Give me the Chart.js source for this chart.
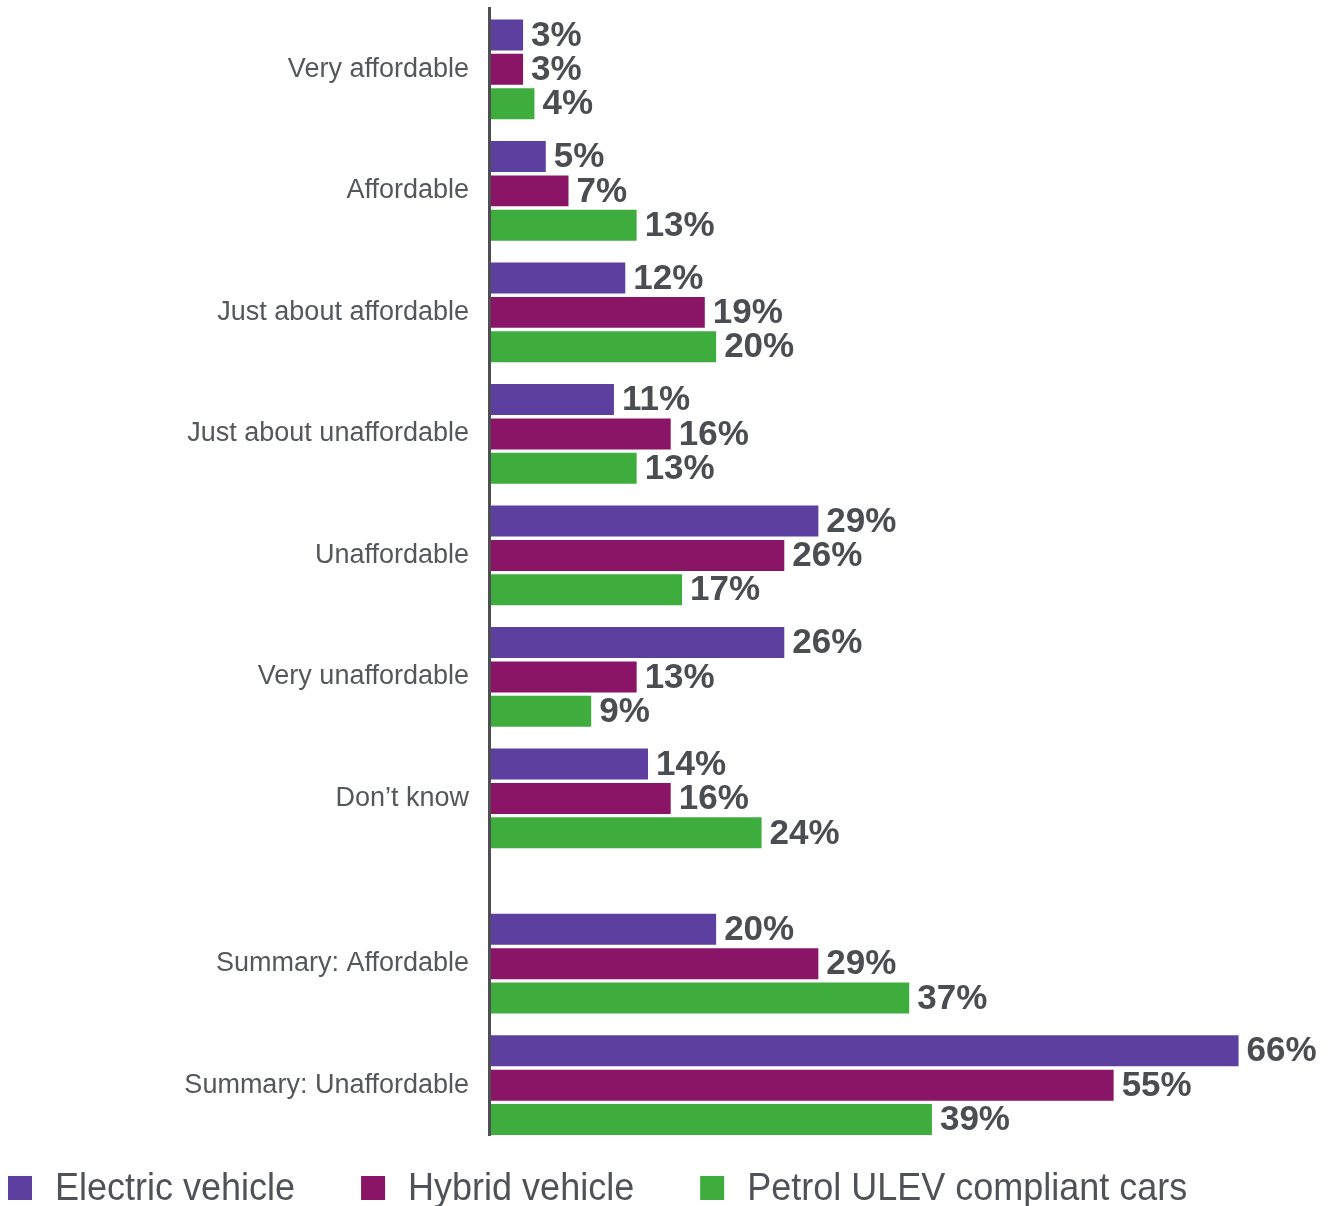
<!DOCTYPE html>
<html>
<head>
<meta charset="utf-8">
<script src="https://cdn.jsdelivr.net/npm/chart.js@4/dist/chart.umd.min.js"></script>
<style>
  html, body { margin: 0; padding: 0; background: #ffffff; }
  #wrap { width: 1335px; height: 1206px; }
</style>
</head>
<body>
<div id="wrap"><canvas id="chart" width="1335" height="1206"></canvas></div>
<script>
// Survey answers: how affordable each type of car is perceived to be
const CATEGORIES = [
  'Very affordable',
  'Affordable',
  'Just about affordable',
  'Just about unaffordable',
  'Unaffordable',
  'Very unaffordable',
  'Don\u2019t know',
  'Summary: Affordable',
  'Summary: Unaffordable'
];
const SERIES_NAMES = ['Electric vehicle', 'Hybrid vehicle', 'Petrol ULEV compliant cars'];
const ELECTRIC = [3, 5, 12, 11, 29, 26, 14, 20, 66];
const HYBRID   = [3, 7, 19, 16, 26, 13, 16, 29, 55];
const PETROL   = [4, 13, 20, 13, 17, 9, 24, 37, 39];
const COLORS = ['#5C3F9F', '#8A1465', '#3EAD3E'];

// The two summary rows sit a little apart from the detailed answers
const SUMMARY_START = 7;
const SUMMARY_GAP = 0.36;
const ROW_POS = CATEGORIES.map((c, i) => i + (i >= SUMMARY_START ? SUMMARY_GAP : 0));

const SERIES = [ELECTRIC, HYBRID, PETROL];

const datasets = SERIES.map((values, s) => ({
  label: SERIES_NAMES[s],
  data: values.map((v, i) => ({ x: v, y: ROW_POS[i] })),
  backgroundColor: COLORS[s],
  borderWidth: 0,
  categoryPercentage: 0.85,
  barPercentage: 0.9
}));

// Percentage labels placed just past the end of each bar
const valueLabels = {
  id: 'valueLabels',
  afterDatasetsDraw(chart) {
    const ctx = chart.ctx;
    ctx.save();
    ctx.font = 'bold 35px "Liberation Sans", Arial, sans-serif';
    ctx.fillStyle = '#4A4D51';
    ctx.textAlign = 'left';
    ctx.textBaseline = 'middle';
    chart.data.datasets.forEach((ds, di) => {
      const meta = chart.getDatasetMeta(di);
      meta.data.forEach((bar, i) => {
        ctx.fillText(ds.data[i].x + '%', bar.x + 8, bar.y + 1);
      });
    });
    ctx.restore();
  }
};

// Series key along the bottom edge
const bottomKey = {
  id: 'bottomKey',
  afterDraw(chart) {
    const ctx = chart.ctx;
    const box = 24;
    const top = 1176;
    let x = 8;
    ctx.save();
    ctx.font = '36px "Liberation Sans", Arial, sans-serif';
    ctx.textBaseline = 'alphabetic';
    ctx.textAlign = 'left';
    chart.data.datasets.forEach((ds) => {
      ctx.fillStyle = ds.backgroundColor;
      ctx.fillRect(x, top, box, box);
      const tx = x + box + 23;
      ctx.fillStyle = '#4F5256';
      ctx.save();
      ctx.translate(tx, top + box);
      ctx.scale(1, 1.1);
      ctx.fillText(ds.label, 0, 0);
      ctx.restore();
      x = tx + ctx.measureText(ds.label).width + 66;
    });
    ctx.restore();
  }
};

new Chart(document.getElementById('chart'), {
  type: 'bar',
  data: { datasets },
  options: {
    indexAxis: 'y',
    responsive: false,
    animation: false,
    devicePixelRatio: 1,
    layout: { padding: { left: 0, right: 51, top: 8, bottom: 71 } },
    plugins: {
      legend: { display: false },
      tooltip: { enabled: false }
    },
    scales: {
      x: {
        type: 'linear',
        min: 0,
        max: 70,
        display: false
      },
      y: {
        type: 'linear',
        reverse: true,
        offset: false,
        min: -0.505,
        max: ROW_POS[ROW_POS.length - 1] + 0.41,
        grid: { display: false, drawTicks: false, offset: false },
        border: { display: true, color: '#4D4F53', width: 3, z: 1 },
        afterBuildTicks(scale) {
          scale.ticks = ROW_POS.map(v => ({ value: v }));
        },
        afterFit(scale) {
          scale.width = 489;
          scale.paddingTop = 0;
          scale.paddingBottom = 0;
        },
        ticks: {
          autoSkip: false,
          padding: 20,
          color: '#55585B',
          font: { family: '"Liberation Sans", Arial, sans-serif', size: 27 },
          callback(value, index) {
            return CATEGORIES[index];
          }
        }
      }
    }
  },
  plugins: [valueLabels, bottomKey]
});
</script>
</body>
</html>
